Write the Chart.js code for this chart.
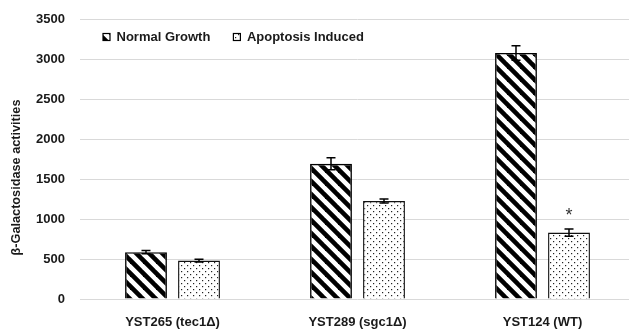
<!DOCTYPE html>
<html>
<head>
<meta charset="utf-8">
<script src="https://cdn.jsdelivr.net/npm/chart.js@4/dist/chart.umd.min.js"></script>
<style>
  html, body { margin: 0; padding: 0; background: #ffffff; overflow: hidden; }
  #wrap { width: 635px; height: 329px; }
</style>
</head>
<body>
<div id="wrap"><canvas id="chart" width="635" height="329"></canvas></div>
<script>
// Strains on the x axis
const categories = ['YST265 (tec1Δ)', 'YST289 (sgc1Δ)', 'YST124 (WT)'];

// β-Galactosidase activity per strain, with standard error
const normalGrowth = [585, 1690, 3075];
const normalGrowthErr = [20, 75, 90];
const apoptosisInduced = [480, 1225, 830];
const apoptosisInducedErr = [18, 25, 45];
// Significance marks above the apoptosis-induced bars
const apoptosisMarks = ['', '', '*'];

// Y axis ticks
const yTicks = [0, 500, 1000, 1500, 2000, 2500, 3000, 3500];

const seriesLabels = ['Normal Growth', 'Apoptosis Induced'];
const yTitle = 'β-Galactosidase activities';

const FONT = '"Liberation Sans", Arial, sans-serif';
const TEXT = '#1a1a1a';

// Diagonal stripe fill ("\" direction)
function stripePattern() {
  const p = 13;
  const c = document.createElement('canvas');
  c.width = p; c.height = p;
  const g = c.getContext('2d');
  g.fillStyle = '#ffffff';
  g.fillRect(0, 0, p, p);
  g.strokeStyle = '#000000';
  g.lineWidth = 4.6;
  for (let k = -1; k <= 1; k++) {
    g.beginPath();
    g.moveTo(k * p - 2, -2);
    g.lineTo(k * p + p + 2, p + 2);
    g.stroke();
  }
  return g.createPattern(c, 'repeat');
}

// Staggered dot fill
function dotPattern() {
  const c = document.createElement('canvas');
  c.width = 6; c.height = 6;
  const g = c.getContext('2d');
  g.fillStyle = '#ffffff';
  g.fillRect(0, 0, 6, 6);
  g.fillStyle = '#222222';
  g.fillRect(1, 1, 1.2, 1.2);
  g.fillRect(4, 4, 1.2, 1.2);
  return g.createPattern(c, 'repeat');
}

const stripes = stripePattern();
const dots = dotPattern();

const errorsByDataset = [normalGrowthErr, apoptosisInducedErr];
const marksByDataset = [null, apoptosisMarks];

// Error bars with caps, drawn through the y scale
const errorBarPlugin = {
  id: 'errorBars',
  afterDatasetsDraw(chart) {
    const ctx = chart.ctx;
    const y = chart.scales.y;
    chart.data.datasets.forEach((ds, di) => {
      const meta = chart.getDatasetMeta(di);
      const errs = errorsByDataset[di];
      meta.data.forEach((bar, i) => {
        const v = ds.data[i];
        const e = errs[i];
        const top = y.getPixelForValue(v + e);
        const bot = y.getPixelForValue(v - e);
        const x = bar.x;
        const cap = 4.5;
        ctx.save();
        ctx.strokeStyle = '#000000';
        ctx.lineWidth = 1.5;
        ctx.beginPath();
        ctx.moveTo(x, top); ctx.lineTo(x, bot);
        ctx.moveTo(x - cap, top); ctx.lineTo(x + cap, top);
        ctx.moveTo(x - cap, bot); ctx.lineTo(x + cap, bot);
        ctx.stroke();
        // significance mark above the error bar
        const marks = marksByDataset[di];
        if (marks && marks[i]) {
          ctx.fillStyle = '#333333';
          ctx.font = '18px ' + FONT;
          ctx.textAlign = 'center';
          ctx.textBaseline = 'alphabetic';
          ctx.fillText(marks[i], x, top - 8);
        }
        ctx.restore();
      });
    });
  }
};

// Y axis title and legend placed inside the plot area
const decorPlugin = {
  id: 'decor',
  afterDraw(chart) {
    const ctx = chart.ctx;
    const area = chart.chartArea;
    ctx.save();
    // rotated y title
    ctx.translate(16.5, area.top + (area.bottom - area.top) * 0.566);
    ctx.rotate(-Math.PI / 2);
    ctx.fillStyle = TEXT;
    ctx.font = 'bold 12.7px ' + FONT;
    ctx.textAlign = 'center';
    ctx.textBaseline = 'middle';
    ctx.fillText(yTitle, 0, 0);
    ctx.restore();

    // legend
    ctx.save();
    ctx.font = 'bold 13px ' + FONT;
    ctx.textBaseline = 'middle';
    ctx.textAlign = 'left';
    let x = area.left + 23;
    const cy = area.top + 18;
    chart.data.datasets.forEach((ds, di) => {
      const box = 7;
      ctx.fillStyle = ds.backgroundColor;
      ctx.fillRect(x, cy - box / 2, box, box);
      ctx.strokeStyle = '#000000';
      ctx.lineWidth = 1.2;
      ctx.strokeRect(x, cy - box / 2, box, box);
      ctx.fillStyle = TEXT;
      ctx.fillText(ds.label, x + box + 6.5, cy + 0.5);
      x += box + 6.5 + ctx.measureText(ds.label).width + 23;
    });
    ctx.restore();
  }
};

new Chart(document.getElementById('chart'), {
  type: 'bar',
  data: {
    labels: categories,
    datasets: [
      {
        label: seriesLabels[0],
        data: normalGrowth,
        backgroundColor: stripes,
        borderColor: '#000000',
        borderWidth: 1.6,
        categoryPercentage: 0.573,
        barPercentage: 0.79
      },
      {
        label: seriesLabels[1],
        data: apoptosisInduced,
        backgroundColor: dots,
        borderColor: '#111111',
        borderWidth: 1.4,
        categoryPercentage: 0.573,
        barPercentage: 0.79
      }
    ]
  },
  options: {
    responsive: false,
    animation: false,
    devicePixelRatio: 1,
    layout: { padding: { top: 19, left: 0, right: 0, bottom: 0 } },
    plugins: {
      legend: { display: false },
      tooltip: { enabled: false }
    },
    scales: {
      x: {
        grid: { display: false },
        border: { display: false },
        ticks: {
          color: TEXT,
          font: { family: FONT, size: 13, weight: 'bold' },
          padding: 8,
          maxRotation: 0
        },
        afterFit(scale) { scale.height = 30; }
      },
      y: {
        min: yTicks[0],
        max: yTicks[yTicks.length - 1],
        afterBuildTicks(scale) { scale.ticks = yTicks.map(v => ({ value: v })); },
        grid: { color: '#d9d9d9', lineWidth: 1, drawTicks: false },
        border: { display: false },
        ticks: {
          color: TEXT,
          font: { family: FONT, size: 13, weight: 'bold' },
          padding: 15,
          callback: (v) => String(v)
        },
        afterFit(scale) {
          scale.width = 80;
          scale.paddingTop = 8;
          scale.paddingBottom = 8;
        }
      }
    }
  },
  plugins: [errorBarPlugin, decorPlugin]
});
</script>
</body>
</html>
